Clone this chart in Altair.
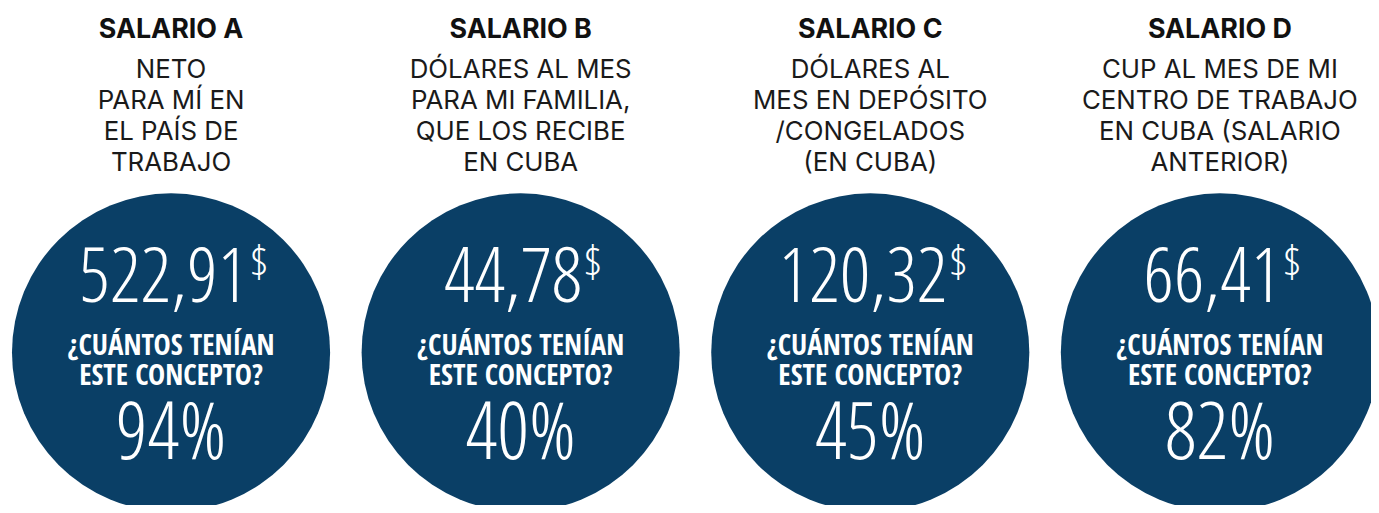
import altair as alt
import pandas as pd

# ---- data ----
titles = ["SALARIO A", "SALARIO B", "SALARIO C", "SALARIO D"]
subtitles = [
    "NETO\nPARA MÍ EN\nEL PAÍS DE\nTRABAJO",
    "DÓLARES AL MES\nPARA MI FAMILIA,\nQUE LOS RECIBE\nEN CUBA",
    "DÓLARES AL\nMES EN DEPÓSITO\n/CONGELADOS\n(EN CUBA)",
    "CUP AL MES DE MI\nCENTRO DE TRABAJO\nEN CUBA (SALARIO\nANTERIOR)",
]
amounts = ["522,91", "44,78", "120,32", "66,41"]
currency = "$"
shares = [94, 40, 45, 82]
question = "¿CUÁNTOS TENÍAN\nESTE CONCEPTO?"

df = pd.DataFrame({
    "idx": list(range(len(titles))),
    "title": titles,
    "sub": subtitles,
    "amount": amounts,
    "cur": [currency] * len(titles),
    "share": [f"{s}%" for s in shares],
    "question": [question] * len(titles),
})

# ---- layout ----
W, H = 1371, 497
STEP = 351.67
LEFT = 164.0
x0 = -LEFT / STEP
x1 = x0 + W / STEP
xscale = alt.Scale(domain=[x0, x1], nice=False, zero=False)
X = alt.X("idx:Q", scale=xscale, axis=None)

BLUE = "#0a3f66"
LIGHT = "Open Sans Condensed Light, Roboto, sans-serif"
BOLDC = "Open Sans Condensed, Roboto, sans-serif"
NUM_SIZE = 77
CUR_SIZE = 44
DIG = 0.41   # approx digit advance (em)
COM = 0.20   # approx comma advance (em)

base = alt.Chart(df)

circles = base.mark_circle(size=102400, color=BLUE, opacity=1).encode(
    x=X, y=alt.value(345)
)

title_txt = base.mark_text(
    font="Inter, Roboto, sans-serif", fontWeight="bold", fontSize=27, color="#111111",
    baseline="alphabetic", align="center"
).encode(x=X, y=alt.value(29), text="title:N")

sub_txt = base.mark_text(
    font="Inter, Roboto, sans-serif", fontWeight=400, fontSize=26, color="#1a1a1a",
    baseline="alphabetic", align="center", lineBreak="\n", lineHeight=31
).encode(x=X, y=alt.value(69), text="sub:N")

amt_base = base.transform_calculate(
    xa=f"datum.idx + ((length(datum.amount) - 1) * {DIG*NUM_SIZE} + {COM*NUM_SIZE} - {DIG*CUR_SIZE}) / 2 / {STEP}"
)
XA = alt.X("xa:Q", scale=xscale, axis=None)

amt_txt = amt_base.mark_text(
    font=LIGHT, fontSize=NUM_SIZE, color="white",
    baseline="alphabetic", align="right"
).encode(x=XA, y=alt.value(294), text="amount:N")

cur_txt = amt_base.mark_text(
    font=LIGHT, fontSize=CUR_SIZE, color="white",
    baseline="alphabetic", align="left", dx=2
).encode(x=XA, y=alt.value(270), text="cur:N")

q_txt = base.mark_text(
    font=BOLDC, fontWeight="bold", fontSize=29, color="white",
    baseline="alphabetic", align="center", lineBreak="\n", lineHeight=30
).encode(x=X, y=alt.value(348), text="question:N")

pct_txt = base.mark_text(
    font=LIGHT, fontSize=80, color="white",
    baseline="alphabetic", align="center"
).encode(x=X, y=alt.value(452), text="share:N")

chart = alt.layer(
    circles, title_txt, sub_txt, amt_txt, cur_txt, q_txt, pct_txt
).properties(
    width=W, height=H, padding=0, autosize="none", background="white"
).configure_view(stroke=None)

chart.save("out.html", embed_options={"renderer": "svg", "actions": False})
